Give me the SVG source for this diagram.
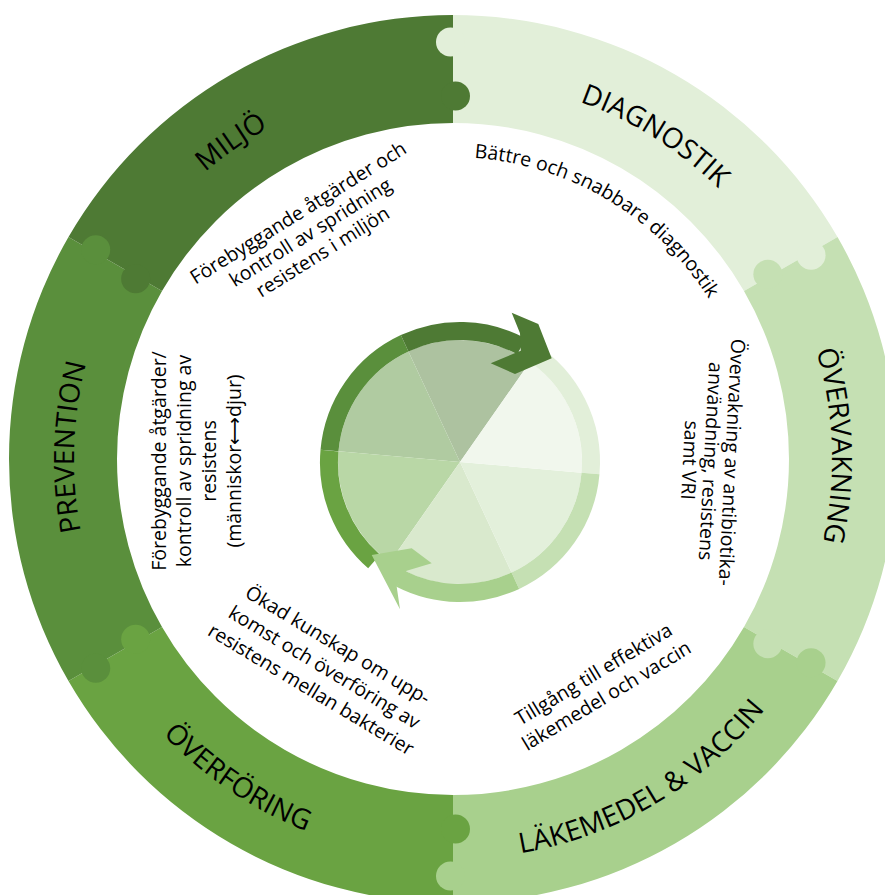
<svg xmlns="http://www.w3.org/2000/svg" width="885" height="895" viewBox="0 0 885 895">
<defs>
<style>
.lbl{font-family:"Open Sans","Liberation Sans",sans-serif;font-size:28px;fill:#000}
.txt{font-family:"Open Sans","DejaVu Sans",sans-serif;font-size:19.5px;fill:#000}
.band{fill:none;stroke-width:18}
</style>
<path id="p-miljo" d="M86.91,360.91 A379,379 0 0 1 486.03,81.44"/>
<path id="p-diag" d="M400.25,83.69 A379,379 0 0 1 813.45,341.88"/>
<path id="p-overv" d="M734.65,205.40 A379,379 0 0 1 751.66,692.34"/>
<path id="p-prev" d="M155.16,693.38 A379,379 0 0 1 170.46,206.38"/>
<path id="p-lake" d="M386.98,853.51 A400,400 0 0 0 830.06,592.52"/>
<path id="p-overf" d="M68.50,569.25 A400,400 0 0 0 494.81,856.81"/>
<path id="p-battre" d="M405.76,160.72 A303,303 0 0 1 738.55,360.68"/>
</defs>
<rect width="885" height="895" fill="#fff"/>

<g id="seg-diagnostik">
<path d="M453,15 A444,444 0 0 1 837.515,237 L743.98,291 A336,336 0 0 0 453,123 Z" fill="#e2efd9"/>
</g>
<g id="seg-overvakning">
<path d="M837.515,237 A444,444 0 0 1 837.515,681 L743.98,627 A336,336 0 0 0 743.98,291 Z" fill="#c5e0b3"/>
</g>
<g id="seg-lakemedel">
<path d="M837.515,681 A444,444 0 0 1 453,903 L453,795 A336,336 0 0 0 743.98,627 Z" fill="#a8d08d"/>
</g>
<g id="seg-overforing">
<path d="M453,903 A444,444 0 0 1 68.485,681 L162.02,627 A336,336 0 0 0 453,795 Z" fill="#6aa342"/>
</g>
<g id="seg-prevention">
<path d="M68.485,681 A444,444 0 0 1 68.485,237 L162.02,291 A336,336 0 0 0 162.02,627 Z" fill="#5a8f3c"/>
</g>
<g id="seg-miljo">
<path d="M68.485,237 A444,444 0 0 1 453,15 L453,123 A336,336 0 0 0 162.02,291 Z" fill="#4e7a34"/>
</g>

<g id="puzzle-tabs">
<circle cx="450.5" cy="42" r="14.5" fill="#e2efd9"/>
<circle cx="455.5" cy="96" r="14.5" fill="#4e7a34"/>
<circle cx="811.05" cy="255.17" r="14.5" fill="#e2efd9"/>
<circle cx="767.85" cy="274.33" r="14.5" fill="#c5e0b3"/>
<circle cx="811.05" cy="662.83" r="14.5" fill="#a8d08d"/>
<circle cx="767.85" cy="643.67" r="14.5" fill="#c5e0b3"/>
<circle cx="450.5" cy="876" r="14.5" fill="#a8d08d"/>
<circle cx="455.5" cy="829" r="14.5" fill="#6aa342"/>
<circle cx="95.72" cy="668.17" r="14.5" fill="#5a8f3c"/>
<circle cx="135.65" cy="639.33" r="14.5" fill="#6aa342"/>
<circle cx="95.72" cy="249.83" r="14.5" fill="#5a8f3c"/>
<circle cx="135.65" cy="278.67" r="14.5" fill="#4e7a34"/>
</g>

<g id="ring-labels">
<text class="lbl" text-anchor="middle"><textPath href="#p-miljo" startOffset="50%">MILJÖ</textPath></text>
<text class="lbl" text-anchor="middle"><textPath href="#p-diag" startOffset="50%">DIAGNOSTIK</textPath></text>
<text class="lbl" text-anchor="middle"><textPath href="#p-overv" startOffset="50%">ÖVERVAKNING</textPath></text>
<text class="lbl" text-anchor="middle"><textPath href="#p-prev" startOffset="50%">PREVENTION</textPath></text>
<text class="lbl" text-anchor="middle"><textPath href="#p-lake" startOffset="50%">LÄKEMEDEL &amp; VACCIN</textPath></text>
<text class="lbl" text-anchor="middle"><textPath href="#p-overf" startOffset="50%">ÖVERFÖRING</textPath></text>
</g>

<g id="cycle-pie">
<path d="M460,462 L529.98,362.06 A122,122 0 0 0 408.44,351.43 Z" fill="#adc2a0"/>
<path d="M460,462 L408.44,351.43 A122,122 0 0 0 338.46,451.37 Z" fill="#b0cba1"/>
<path d="M460,462 L338.46,451.37 A122,122 0 0 0 390.02,561.94 Z" fill="#b9d7a6"/>
<path d="M460,462 L390.02,561.94 A122,122 0 0 0 511.56,572.57 Z" fill="#d9e9cd"/>
<path d="M460,462 L511.56,572.57 A122,122 0 0 0 581.54,472.63 Z" fill="#e3f0db"/>
<path d="M460,462 L581.54,472.63 A122,122 0 0 0 529.98,362.06 Z" fill="#f1f7ed"/>
</g>

<g id="connectors">
<path class="band" stroke="#6aa342" d="M374.06,561.48 A131,131 0 0 1 329.50,450.58"/>
<path class="band" stroke="#5a8f3c" d="M329.50,450.58 A131,131 0 0 1 404.64,343.27"/>
<path class="band" stroke="#4e7a34" d="M404.64,343.27 A131,131 0 0 1 521.50,346.33"/>
<path class="band" stroke="#e2efd9" d="M529.42,350.91 A131,131 0 0 1 590.50,473.42"/>
<path class="band" stroke="#c5e0b3" d="M590.50,473.42 A131,131 0 0 1 515.36,580.73"/>
<path class="band" stroke="#a8d08d" d="M515.36,580.73 A131,131 0 0 1 400.53,578.72"/>
<polygon points="511.7,312.7 538.3,324 551.7,358.3 515,374 490.7,363.3 520.7,350.7 520,333.3" fill="#4e7a34"/>
<polygon points="371.7,555 411.7,548.3 431.7,563.3 406.7,570.7 396.7,586.7 400,609.3" fill="#a8d08d"/>
</g>

<g id="txt-miljo">
<text class="txt" text-anchor="middle" transform="translate(314,238) rotate(-32)"><tspan x="0" y="-23">Förebyggande åtgärder och</tspan><tspan x="0" y="0">kontroll av spridning</tspan><tspan x="0" y="23">resistens i miljön</tspan></text>
</g>
<g id="txt-diagnostik">
<text class="txt" text-anchor="middle"><textPath href="#p-battre" startOffset="50%">Bättre och snabbare diagnostik</textPath></text>
</g>
<g id="txt-overvakning">
<text class="txt" text-anchor="middle" transform="translate(725,462) rotate(93)"><tspan x="0" y="0">Övervakning av antibiotika-</tspan><tspan x="0" y="21">användning, resistens</tspan><tspan x="0" y="42">samt VRI</tspan></text>
</g>
<g id="txt-lakemedel">
<text class="txt" text-anchor="middle" transform="translate(597,680) rotate(-31)"><tspan x="0" y="0">Tillgång till effektiva</tspan><tspan x="0" y="25">läkemedel och vaccin</tspan></text>
</g>
<g id="txt-overforing">
<text class="txt" text-anchor="middle" transform="translate(321,673) rotate(31)"><tspan x="0" y="-26">Ökad kunskap om upp-</tspan><tspan x="0" y="0">komst och överföring av</tspan><tspan x="0" y="26">resistens mellan bakterier</tspan></text>
</g>
<g id="txt-prevention">
<text class="txt" text-anchor="middle" transform="translate(166,461) rotate(-90)"><tspan x="0" y="0">Förebyggande åtgärder/</tspan><tspan x="0" y="25">kontroll av spridning av</tspan><tspan x="0" y="50">resistens</tspan><tspan x="0" y="75">(människor⟷djur)</tspan></text>
</g>
</svg>
